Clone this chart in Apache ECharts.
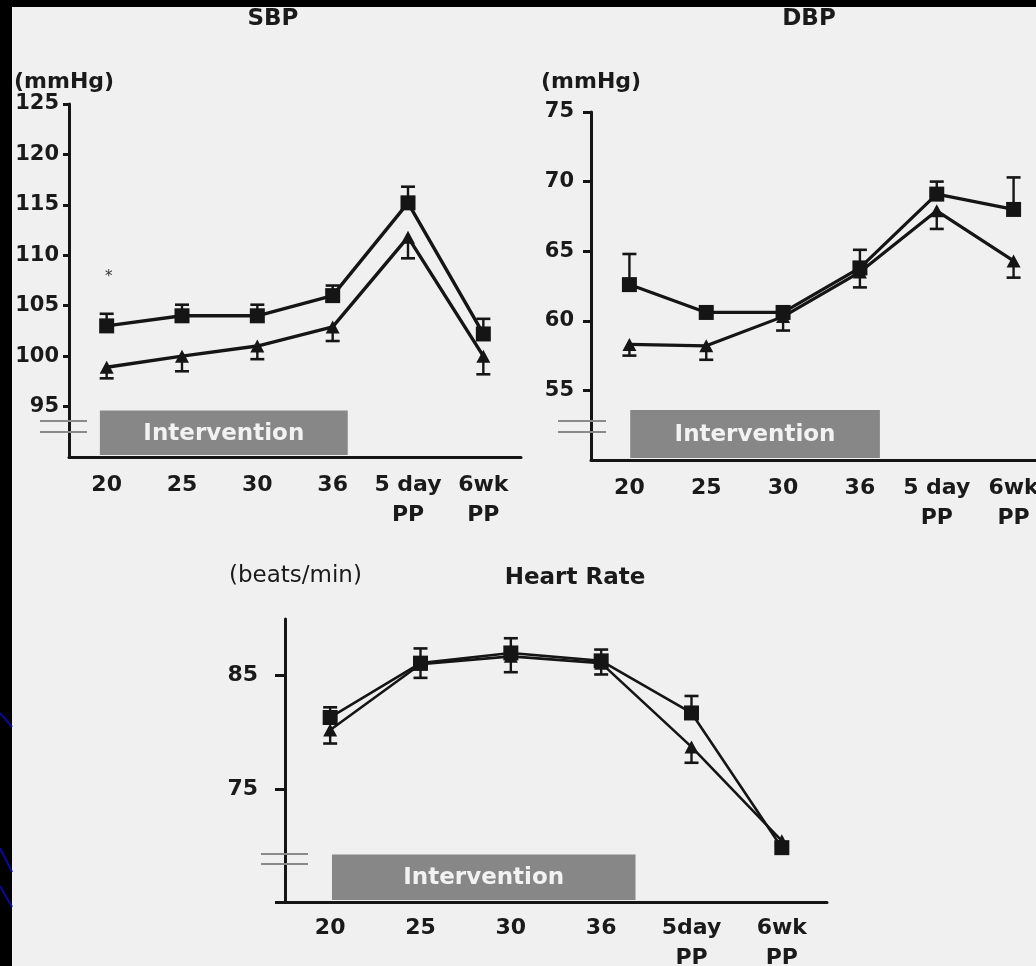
<!DOCTYPE html>
<html><head><meta charset="utf-8">
<script src="https://cdn.jsdelivr.net/npm/echarts@6/dist/echarts.min.js"></script>
<style>html,body{margin:0;padding:0;background:#f0f0f0;}#c{width:1036px;height:966px;}</style>
</head><body><div id="c"></div>
<script>
// ---------- data ----------
const bpCategories = ['20', '25', '30', '36', '5 day\nPP', '6wk\nPP'];
const hrCategories = ['20', '25', '30', '36', '5day\nPP', '6wk\nPP'];

const sbpSquare      = [103.0, 104.0, 104.0, 106.0, 115.2, 102.2];
const sbpSquareErr   = [1.2, 1.1, 1.1, 1.0, 1.6, 1.5];
const sbpTriangle    = [98.9, 100.0, 101.0, 102.9, 111.8, 100.0];
const sbpTriangleErr = [1.1, 1.5, 1.3, 1.4, 2.1, 1.8];

const dbpSquare      = [62.6, 60.6, 60.6, 63.8, 69.1, 68.0];
const dbpSquareErr   = [2.2, 0.3, 0.3, 1.3, 0.9, 2.3];
const dbpTriangle    = [58.3, 58.2, 60.3, 63.5, 67.9, 64.3];
const dbpTriangleErr = [0.8, 1.0, 1.0, 1.1, 1.3, 1.2];

const hrSquare       = [81.3, 86.1, 87.0, 86.3, 81.7, 69.8];
const hrSquareErr    = [0.9, 1.3, 1.3, 1.0, 1.5, 0.4];
const hrTriangle     = [80.2, 86.0, 86.7, 86.1, 78.7, 70.4];
const hrTriangleErr  = [1.2, 1.2, 1.4, 1.0, 1.4, 0.4];

const sbpAxis = {min: 90, max: 125, step: 5};
const dbpAxis = {min: 50, max: 75, step: 5};
const hrAxis  = {min: 65, max: 90, tickValues: [65, 75, 85], labelValues: [75, 85]};

// intervention span: [start index, end index, top value]
const sbpIntervention = [-0.09, 3.2, 94.6];
const dbpIntervention = [0.01, 3.26, 53.6];
const hrIntervention  = [0.02, 3.38, 69.2];
const sbpStar = {index: 0, value: 108.1, text: '*'};

// ---------- helpers ----------
const INK = '#151515';
const FONT = 'DejaVu Sans';

function errData(vals, errs, dir) {
  return vals.map((v, i) => [i, v, v + dir * errs[i]]);
}
function errRender(params, api) {
  const x = api.value(0), v = api.value(1), e = api.value(2);
  const p1 = api.coord([x, v]), p2 = api.coord([x, e]);
  const hw = 7;
  return {type: 'group', children: [
    {type: 'line', shape: {x1: p1[0], y1: p1[1], x2: p2[0], y2: p2[1]}, style: {stroke: INK, lineWidth: 2.4}},
    {type: 'line', shape: {x1: p2[0] - hw, y1: p2[1], x2: p2[0] + hw, y2: p2[1]}, style: {stroke: INK, lineWidth: 2.6}}
  ]};
}
function intervRender(params, api) {
  const s = api.value(0), e = api.value(1), top = api.value(2), base = api.value(3);
  const a = api.coord([0, top]), b = api.coord([1, base]);
  const band = b[0] - a[0];
  const x1 = a[0] + s * band, x2 = a[0] + e * band;
  const y1 = a[1], y2 = b[1] - 2;
  return {type: 'group', children: [
    {type: 'rect', shape: {x: x1, y: y1, width: x2 - x1, height: y2 - y1}, style: {fill: '#878787'}},
    {type: 'text', x: (x1 + x2) / 2, y: (y1 + y2) / 2 + 1, style: {text: 'Intervention', fill: '#f2f2f2', font: 'bold 23px "DejaVu Sans"', align: 'center', verticalAlign: 'middle'}}
  ]};
}

function xAxisCfg(gi, cats, margin) {
  return {
    type: 'category', gridIndex: gi, data: cats, boundaryGap: true,
    axisLine: {lineStyle: {color: INK, width: 3}},
    axisTick: {alignWithLabel: true, length: 6, lineStyle: {color: INK, width: 3}},
    axisLabel: {color: '#1a1a1a', fontFamily: FONT, fontWeight: 'bold', fontSize: 22, lineHeight: 30, margin: margin, interval: 0},
    splitLine: {show: false}
  };
}
function yAxisCfg(gi, ax, margin, tickLen, fontSize) {
  const cfg = {
    type: 'value', gridIndex: gi, min: ax.min, max: ax.max,
    axisLine: {show: true, lineStyle: {color: INK, width: 3}},
    axisTick: {show: true, length: tickLen, lineStyle: {color: INK, width: 3}},
    axisLabel: {color: '#1a1a1a', fontFamily: FONT, fontWeight: 'bold', fontSize: fontSize, margin: margin},
    splitLine: {show: false}
  };
  if (ax.step) {
    cfg.interval = ax.step;
    cfg.axisLabel.showMinLabel = false;
  }
  if (ax.tickValues) {
    cfg.axisTick.customValues = ax.tickValues;
    cfg.axisLabel.customValues = ax.labelValues;
  }
  return cfg;
}
function panelSeries(gi, sq, sqErr, tri, triErr, interv, base, lineW) {
  return [
    {type: 'custom', xAxisIndex: gi, yAxisIndex: gi, renderItem: intervRender, z: 1,
      data: [[interv[0], interv[1], interv[2], base]], encode: {x: -1, y: -1}, silent: true},
    {type: 'custom', xAxisIndex: gi, yAxisIndex: gi, renderItem: errRender, z: 2,
      data: errData(sq, sqErr, 1), encode: {x: 0, y: [1, 2]}},
    {type: 'custom', xAxisIndex: gi, yAxisIndex: gi, renderItem: errRender, z: 2,
      data: errData(tri, triErr, -1), encode: {x: 0, y: [1, 2]}},
    {type: 'line', xAxisIndex: gi, yAxisIndex: gi, data: sq, z: 3, symbol: 'rect', symbolSize: 15,
      lineStyle: {color: INK, width: lineW}, itemStyle: {color: INK}},
    {type: 'line', xAxisIndex: gi, yAxisIndex: gi, data: tri, z: 3, symbol: 'triangle', symbolSize: [14, 13],
      lineStyle: {color: INK, width: lineW}, itemStyle: {color: INK}}
  ];
}

const series = [].concat(
  panelSeries(0, sbpSquare, sbpSquareErr, sbpTriangle, sbpTriangleErr, sbpIntervention, sbpAxis.min, 3.4),
  panelSeries(1, dbpSquare, dbpSquareErr, dbpTriangle, dbpTriangleErr, dbpIntervention, dbpAxis.min, 3.2),
  panelSeries(2, hrSquare, hrSquareErr, hrTriangle, hrTriangleErr, hrIntervention, hrAxis.min, 2.6)
);
series[3].markPoint = {
  symbol: 'circle', symbolSize: 1, itemStyle: {color: 'rgba(0,0,0,0)'},
  label: {show: true, formatter: sbpStar.text, color: '#333', fontSize: 15, fontFamily: FONT, position: 'inside', offset: [2, 3]},
  data: [{coord: [sbpStar.index, sbpStar.value]}]
};

function txt(x, y, s, font, align) {
  return {type: 'text', x: x, y: y, z: 10, style: {text: s, font: font, fill: '#1a1a1a', align: align || 'center', verticalAlign: 'middle'}};
}
function brk(x1, x2, y) {
  return {type: 'line', z: 10, shape: {x1: x1, y1: y, x2: x2, y2: y}, style: {stroke: '#8a8a8a', lineWidth: 2}};
}
const graphics = [
  {type: 'rect', z: 20, shape: {x: 0, y: 0, width: 12, height: 966}, style: {fill: '#000'}},
  {type: 'rect', z: 20, shape: {x: 0, y: 0, width: 1036, height: 7}, style: {fill: '#000'}},
  {type: 'line', z: 21, shape: {x1: 0, y1: 713, x2: 12, y2: 727}, style: {stroke: '#0a0a9a', lineWidth: 2}},
  {type: 'line', z: 21, shape: {x1: 0, y1: 848, x2: 12, y2: 872}, style: {stroke: '#0a0a9a', lineWidth: 2}},
  {type: 'line', z: 21, shape: {x1: 0, y1: 886, x2: 12, y2: 907}, style: {stroke: '#0a0a9a', lineWidth: 2}},
  txt(273, 19, 'SBP', 'bold 23px "DejaVu Sans"'),
  txt(809, 19, 'DBP', 'bold 23px "DejaVu Sans"'),
  txt(575, 578, 'Heart Rate', 'bold 23px "DejaVu Sans"'),
  txt(14, 82, '(mmHg)', 'bold 22px "DejaVu Sans"', 'left'),
  txt(541, 82, '(mmHg)', 'bold 22px "DejaVu Sans"', 'left'),
  txt(229, 576, '(beats/min)', '23px "DejaVu Sans"', 'left'),
  brk(40, 87, 421), brk(40, 87, 432),
  brk(558, 606, 421), brk(558, 606, 432),
  brk(261, 308, 854), brk(261, 308, 864)
];

const option = {
  backgroundColor: '#f0f0f0',
  animation: false,
  grid: [
    {left: 69, top: 104, width: 452, height: 353, outerBoundsMode: 'none', containLabel: false},
    {left: 591, top: 112, width: 461, height: 348, outerBoundsMode: 'none', containLabel: false},
    {left: 285, top: 619, width: 542, height: 283, outerBoundsMode: 'none', containLabel: false}
  ],
  xAxis: [xAxisCfg(0, bpCategories, 13), xAxisCfg(1, bpCategories, 13), xAxisCfg(2, hrCategories, 11)],
  yAxis: [yAxisCfg(0, sbpAxis, 10, 6, 21), yAxisCfg(1, dbpAxis, 17, 8, 21), yAxisCfg(2, hrAxis, 27, 10, 22)],
  series: series,
  graphic: graphics
};
const chart = echarts.init(document.getElementById('c'), null, {renderer: 'canvas'});
chart.setOption(option);
</script></body></html>
